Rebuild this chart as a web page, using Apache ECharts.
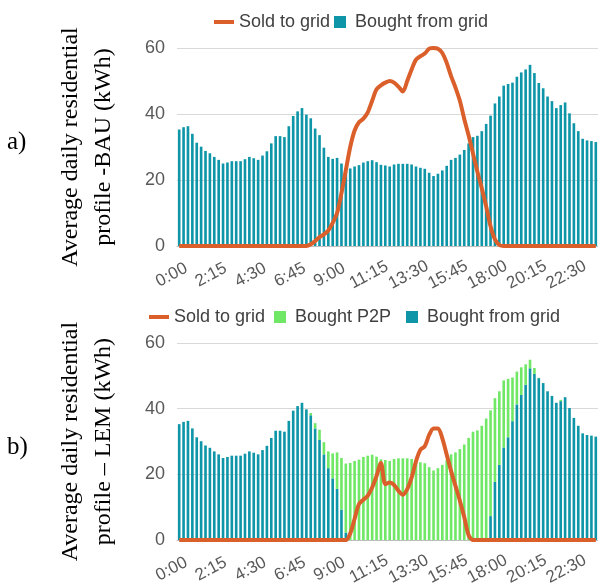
<!DOCTYPE html>
<html>
<head>
<meta charset="utf-8">
<script src="https://cdn.jsdelivr.net/npm/echarts@6/dist/echarts.min.js"></script>
<style>
html,body{margin:0;padding:0;background:#fff}
#main{width:598px;height:588px}
</style>
</head>
<body>
<div id="main"></div>
<script>
// 15 min slots, 0:00 .. 23:45
var times = [];
for (var h = 0; h < 24; h++) {
	for (var m = 0; m < 60; m += 15) {
		times.push(h + ':' + (m < 10 ? '0' + m : m));
	}
}

// a) BAU
var gridBAU = [35.3,36,36.3,34,31.3,30.1,28.8,28.1,27,26.1,
	25,25.3,25.7,25.7,25.7,26.3,27,26.6,26.1,27.4,
	28.7,31.1,33.3,33.3,33,36.3,39.4,40.8,41.8,39.8,
	38.7,35.6,33.6,29.8,27,26.4,26.7,25,23.3,23.5,
	24.1,24.5,25.3,25.7,26,25.4,24.6,24.4,24.1,24.7,
	24.9,24.9,24.9,24.7,24.1,23.7,23.4,22.2,21.2,21.9,
	22.9,24.3,26.1,26.7,27.7,29.1,31.1,33,33.4,34.8,
	37,39.5,43.2,45.3,48.6,49.1,49.5,51.3,52.6,53.5,
	54.9,52.4,49.4,47.8,45.3,43.9,41.8,42.7,43.5,40.2,
	37.2,34.8,32.5,32,31.8,31.5];
var soldBAU = [0,0,0,0,0,0,0,0,0,0,
	0,0,0,0,0,0,0,0,0,0,
	0,0,0,0,0,0,0,0,0,0,
	0.5,1.5,2.7,3.5,4.7,7,10,16,23,30,
	35,37.5,38.6,40.5,44,47.5,48.7,49.5,50,49.5,
	48.3,46.8,50,53.5,56.5,57.5,58.3,59.8,60,59.8,
	58.5,55.5,51.5,48,44,38.5,33.5,28,22.5,17.5,
	12,6,2,0.3,0,0,0,0,0,0,
	0,0,0,0,0,0,0,0,0,0,
	0,0,0,0,0,0];

// b) LEM
var gridLEM = [35.3,36,36.3,34,31.3,30.1,28.8,28.1,27,26.1,
	25,25.3,25.7,25.7,25.7,26.3,27,26.6,26.1,27.4,
	28.7,31.1,33.3,33.3,33,36.3,39.4,40.8,41.8,39.8,
	38,34,30.5,26.1,21.9,18.8,15.6,9.3,2.3,0,
	0,0,0,0,0,0,0,0,0,0,
	0,0,0,0,0,0,0,0,0,0,
	0,0,0,0,0,0,0,0,0,0,
	0,7.3,17.7,22.9,28.2,31.3,36.2,41.3,44.2,47.3,
	52.3,50.6,49.3,47.8,45.3,43.9,41.8,42.3,43.5,40.2,
	37.2,34.8,32.5,32,31.8,31.5];
var p2pLEM = [0,0,0,0,0,0,0,0,0,0,
	0,0,0,0,0,0,0,0,0,0,
	0,0,0,0,0,0,0,0,0,0,
	0.7,1.6,3.1,3.7,5.1,7.6,11.1,15.7,21,23.5,
	24.1,24.5,25.3,25.7,26,25.4,24.6,24.4,24.1,24.7,
	24.9,24.9,24.9,24.7,24.1,23.7,23.4,22.2,21.2,21.9,
	22.9,24.3,26.1,26.7,27.7,29.1,31.1,33,33.4,34.8,
	37,32.2,25.5,22.4,20.4,17.8,13.3,10,8.4,6.2,
	2.6,1.8,0.1,0,0,0,0,0.4,0,0,
	0,0,0,0,0,0];
var soldLEM = [0,0,0,0,0,0,0,0,0,0,
	0,0,0,0,0,0,0,0,0,0,
	0,0,0,0,0,0,0,0,0,0,
	0,0,0,0,0,0,0,0,0,2,
	6.5,11,12.3,13.5,16,19.5,23.5,17,17.5,16.8,
	15,13.8,15.5,19,24,27.5,28.6,32,34,34,
	31,26,21,16.5,12,7,1.5,0,0,0,
	0,0,0,0,0,0,0,0,0,0,
	0,0,0,0,0,0,0,0,0,0,
	0,0,0,0,0,0];

var yTicks = [0, 20, 40, 60];

var ORANGE = '#da5f2a';
var TEAL = '#0e96a8';
var GREEN = '#70e866';
var SANS = '"Liberation Sans", Arial, sans-serif';
var SERIF = '"Liberation Serif", "Times New Roman", serif';
var SQUARE = 'path://M0,0H10V10H0Z';
var DASH = 'path://M0,0H20V4H0Z';

function xAxisFor(idx) {
	return {
		type: 'category',
		gridIndex: idx,
		data: times,
		axisLine: {lineStyle: {color: '#bfbfbf'}},
		axisTick: {show: false},
		axisLabel: {
			interval: 8,
			rotate: 28,
			align: 'center',
			verticalAlign: 'middle',
			padding: [0, 17, 0, 0],
			margin: 25,
			fontSize: 17,
			fontFamily: SANS,
			color: '#595959'
		}
	};
}

function yAxisFor(idx, title) {
	return {
		type: 'value',
		gridIndex: idx,
		min: yTicks[0],
		max: yTicks[yTicks.length - 1],
		interval: 20,
		name: title,
		nameLocation: 'middle',
		nameRotate: 90,
		nameGap: 57,
		nameTextStyle: {
			fontFamily: SERIF,
			fontSize: 24,
			lineHeight: 33,
			color: '#000'
		},
		axisLine: {show: false},
		axisTick: {show: false},
		splitLine: {lineStyle: {color: '#d9d9d9'}},
		axisLabel: {margin: 12, fontSize: 18, fontFamily: SANS, color: '#595959'}
	};
}

// one legend block per entry so each can sit where it is in the picture
function legendItem(name, icon, left, top) {
	return {
		left: left, top: top,
		itemWidth: 20, itemHeight: 12,
		textStyle: {fontSize: 18, fontFamily: SANS, color: '#404040'},
		data: [{name: name, icon: icon}]
	};
}

var myChart = echarts.init(document.getElementById('main'));
var option = {
	animation: false,
	backgroundColor: '#fff',
	grid: [
		{left: 177, right: 0, top: 48, height: 198},
		{left: 177, right: 0, top: 343, height: 200}
	],
	legend: [
		legendItem('Sold to grid', DASH, 209, 8),
		legendItem('Bought from grid', SQUARE, 329, 8),
		legendItem('Sold to grid', DASH, 144, 303),
		legendItem('Bought P2P', SQUARE, 269, 303),
		legendItem('Bought from grid', SQUARE, 401, 303)
	],
	xAxis: [xAxisFor(0), xAxisFor(1)],
	yAxis: [
		yAxisFor(0, 'Average daily residential\nprofile -BAU (kWh)'),
		yAxisFor(1, 'Average daily residential\nprofile \u2013 LEM (kWh)')
	],
	graphic: [
		{type: 'text', left: 7, top: 130, style: {text: 'a)', font: '25px ' + SERIF, fill: '#000'}},
		{type: 'text', left: 7, top: 435, style: {text: 'b)', font: '25px ' + SERIF, fill: '#000'}}
	],
	series: [
		{
			name: 'Bought from grid', type: 'bar', xAxisIndex: 0, yAxisIndex: 0,
			data: gridBAU, barCategoryGap: '40%', itemStyle: {color: TEAL}
		},
		{
			name: 'Sold to grid', type: 'line', xAxisIndex: 0, yAxisIndex: 0,
			data: soldBAU, symbol: 'none', smooth: 0.3, z: 5,
			lineStyle: {width: 4, color: ORANGE}, itemStyle: {color: ORANGE}
		},
		{
			name: 'Bought from grid', type: 'bar', xAxisIndex: 1, yAxisIndex: 1, stack: 'lem',
			data: gridLEM, barCategoryGap: '40%', itemStyle: {color: TEAL}
		},
		{
			name: 'Bought P2P', type: 'bar', xAxisIndex: 1, yAxisIndex: 1, stack: 'lem',
			data: p2pLEM, barCategoryGap: '40%', itemStyle: {color: GREEN}
		},
		{
			name: 'Sold to grid', type: 'line', xAxisIndex: 1, yAxisIndex: 1,
			data: soldLEM, symbol: 'none', smooth: 0.3, z: 5,
			lineStyle: {width: 4, color: ORANGE}, itemStyle: {color: ORANGE}
		}
	]
};
myChart.setOption(option);
</script>
</body>
</html>
